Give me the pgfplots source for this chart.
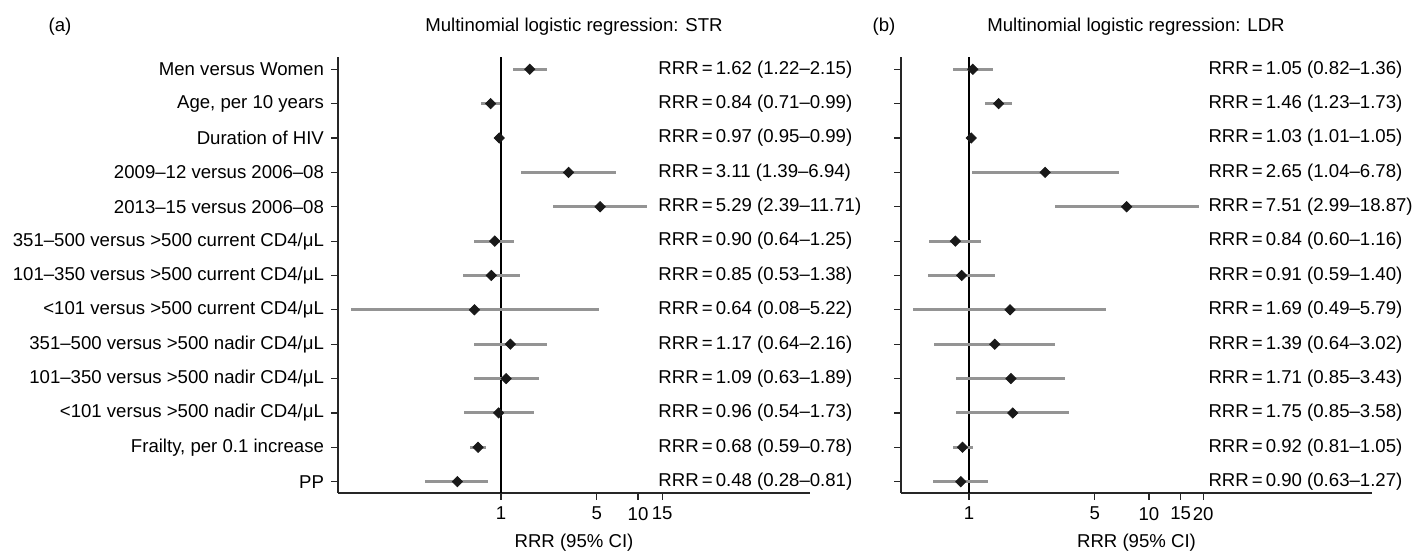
\documentclass[border=0pt]{standalone}
\usepackage{fontspec}
\setmainfont{Liberation Sans}
\usepackage{pgfplots}
\usepackage{pgfplotstable}
\pgfplotsset{compat=1.18}

% row rrr lo hi   (row 1 = top)
\pgfplotstableread{
row rrr lo hi
1 1.62 1.22 2.15
2 0.84 0.71 0.99
3 0.97 0.95 0.99
4 3.11 1.39 6.94
5 5.29 2.39 11.71
6 0.90 0.64 1.25
7 0.85 0.53 1.38
8 0.64 0.08 5.22
9 1.17 0.64 2.16
10 1.09 0.63 1.89
11 0.96 0.54 1.73
12 0.68 0.59 0.78
13 0.48 0.28 0.81
}\strdata

\pgfplotstableread{
row rrr lo hi
1 1.05 0.82 1.36
2 1.46 1.23 1.73
3 1.03 1.01 1.05
4 2.65 1.04 6.78
5 7.51 2.99 18.87
6 0.84 0.60 1.16
7 0.91 0.59 1.40
8 1.69 0.49 5.79
9 1.39 0.64 3.02
10 1.71 0.85 3.43
11 1.75 0.85 3.58
12 0.92 0.81 1.05
13 0.90 0.63 1.27
}\ldrdata

\newcommand{\fs}{\fontsize{9.3pt}{11pt}\selectfont}

\pgfplotsset{myforest/.style={
  scale only axis, height=218pt,
  ymin=0.67, ymax=13.358,
  axis x line*=bottom, axis y line*=left,
  axis line style={line width=0.7pt, black!85},
  tick align=outside, major tick length=3.5pt,
  tick style={line width=0.6pt, black!85},
  xminorticks=false, yminorticks=false,
  ytick={1,2,3,4,5,6,7,8,9,10,11,12,13},
  font=\fs,
  ticklabel style={font=\fs},
  xlabel={RRR (95\% CI)},
  xlabel style={font=\fs},
  clip=false,
}}

\begin{document}
\begin{tikzpicture}
\useasboundingbox (0,0) rectangle (707pt,277.5pt);

\node[font=\fs, anchor=base] at (30pt,261.5pt) {(a)};
\node[font=\fs, anchor=base] at (287pt,261.5pt) {Multinomial logistic regression: STR};
\node[font=\fs, anchor=base] at (442pt,261.5pt) {(b)};
\node[font=\fs, anchor=base] at (568pt,261.5pt) {Multinomial logistic regression: LDR};

\begin{axis}[xmode=log, myforest, at={(169pt,31pt)}, anchor=south west,
  width=236pt,
  xmin=0.0646, xmax=180,
  xtick={1,5,10,15}, xticklabels={1,5,10,15},
  yticklabels={PP, {Frailty, per 0.1 increase},
    {<101 versus >500 nadir CD4/μL},
    {101–350 versus >500 nadir CD4/μL},
    {351–500 versus >500 nadir CD4/μL},
    {<101 versus >500 current CD4/μL},
    {101–350 versus >500 current CD4/μL},
    {351–500 versus >500 current CD4/μL},
    {2013–15 versus 2006–08},
    {2009–12 versus 2006–08},
    {Duration of HIV},
    {Age, per 10 years},
    {Men versus Women}},
]
\addplot[black, line width=1.3pt] coordinates {(1,0.67) (1,13.358)};
\addplot[only marks, mark=square*, mark size=1.8pt,
  mark options={rotate=45, fill=black!90, draw=black!90},
  error bars/.cd, x dir=both, x explicit, error mark=none,
  error bar style={line width=1.5pt, black!42}]
  table[x=rrr, y expr=14-\thisrow{row},
        x error plus expr=\thisrow{hi}-\thisrow{rrr},
        x error minus expr=\thisrow{rrr}-\thisrow{lo}] {\strdata};
\node[anchor=west, inner sep=0pt] at (axis cs:14,13) {RRR\,=\,1.62 (1.22–2.15)};
\node[anchor=west, inner sep=0pt] at (axis cs:14,12) {RRR\,=\,0.84 (0.71–0.99)};
\node[anchor=west, inner sep=0pt] at (axis cs:14,11) {RRR\,=\,0.97 (0.95–0.99)};
\node[anchor=west, inner sep=0pt] at (axis cs:14,10) {RRR\,=\,3.11 (1.39–6.94)};
\node[anchor=west, inner sep=0pt] at (axis cs:14,9) {RRR\,=\,5.29 (2.39–11.71)};
\node[anchor=west, inner sep=0pt] at (axis cs:14,8) {RRR\,=\,0.90 (0.64–1.25)};
\node[anchor=west, inner sep=0pt] at (axis cs:14,7) {RRR\,=\,0.85 (0.53–1.38)};
\node[anchor=west, inner sep=0pt] at (axis cs:14,6) {RRR\,=\,0.64 (0.08–5.22)};
\node[anchor=west, inner sep=0pt] at (axis cs:14,5) {RRR\,=\,1.17 (0.64–2.16)};
\node[anchor=west, inner sep=0pt] at (axis cs:14,4) {RRR\,=\,1.09 (0.63–1.89)};
\node[anchor=west, inner sep=0pt] at (axis cs:14,3) {RRR\,=\,0.96 (0.54–1.73)};
\node[anchor=west, inner sep=0pt] at (axis cs:14,2) {RRR\,=\,0.68 (0.59–0.78)};
\node[anchor=west, inner sep=0pt] at (axis cs:14,1) {RRR\,=\,0.48 (0.28–0.81)};
\end{axis}

\begin{axis}[xmode=log, myforest, at={(450.5pt,31pt)}, anchor=south west,
  width=235.5pt,
  xmin=0.419, xmax=173.4,
  xtick={1,5,10,15,20}, xticklabels={1,5,10,15,20},
  yticklabel=\empty,
]
\addplot[black, line width=1.3pt] coordinates {(1,0.67) (1,13.358)};
\addplot[only marks, mark=square*, mark size=1.8pt,
  mark options={rotate=45, fill=black!90, draw=black!90},
  error bars/.cd, x dir=both, x explicit, error mark=none,
  error bar style={line width=1.5pt, black!42}]
  table[x=rrr, y expr=14-\thisrow{row},
        x error plus expr=\thisrow{hi}-\thisrow{rrr},
        x error minus expr=\thisrow{rrr}-\thisrow{lo}] {\ldrdata};
\node[anchor=west, inner sep=0pt] at (axis cs:21.3,13) {RRR\,=\,1.05 (0.82–1.36)};
\node[anchor=west, inner sep=0pt] at (axis cs:21.3,12) {RRR\,=\,1.46 (1.23–1.73)};
\node[anchor=west, inner sep=0pt] at (axis cs:21.3,11) {RRR\,=\,1.03 (1.01–1.05)};
\node[anchor=west, inner sep=0pt] at (axis cs:21.3,10) {RRR\,=\,2.65 (1.04–6.78)};
\node[anchor=west, inner sep=0pt] at (axis cs:21.3,9) {RRR\,=\,7.51 (2.99–18.87)};
\node[anchor=west, inner sep=0pt] at (axis cs:21.3,8) {RRR\,=\,0.84 (0.60–1.16)};
\node[anchor=west, inner sep=0pt] at (axis cs:21.3,7) {RRR\,=\,0.91 (0.59–1.40)};
\node[anchor=west, inner sep=0pt] at (axis cs:21.3,6) {RRR\,=\,1.69 (0.49–5.79)};
\node[anchor=west, inner sep=0pt] at (axis cs:21.3,5) {RRR\,=\,1.39 (0.64–3.02)};
\node[anchor=west, inner sep=0pt] at (axis cs:21.3,4) {RRR\,=\,1.71 (0.85–3.43)};
\node[anchor=west, inner sep=0pt] at (axis cs:21.3,3) {RRR\,=\,1.75 (0.85–3.58)};
\node[anchor=west, inner sep=0pt] at (axis cs:21.3,2) {RRR\,=\,0.92 (0.81–1.05)};
\node[anchor=west, inner sep=0pt] at (axis cs:21.3,1) {RRR\,=\,0.90 (0.63–1.27)};
\end{axis}
\end{tikzpicture}
\end{document}
